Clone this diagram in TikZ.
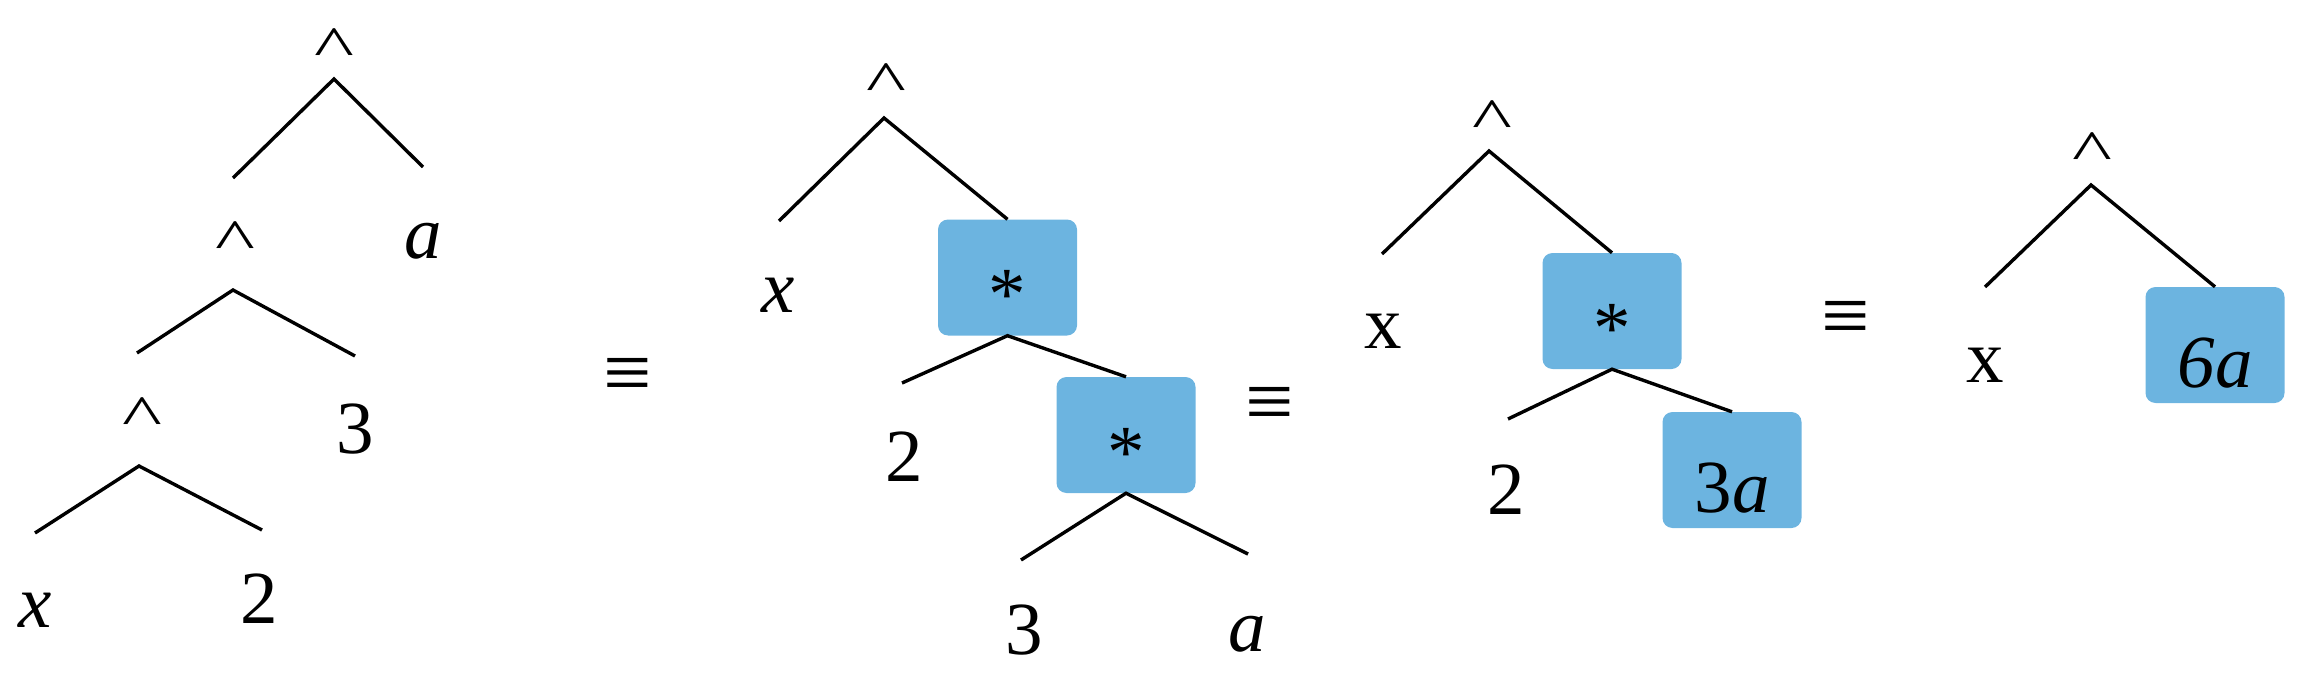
\documentclass[tikz,border=0pt]{standalone}
\usepackage{fontspec}
\usepackage{graphicx}
\setmainfont{Liberation Serif}
\definecolor{boxblue}{RGB}{108,180,224}
\newcommand{\hatsym}{\scalebox{1.13}[0.77]{\textasciicircum}}
\begin{document}
\begin{tikzpicture}[x=1pt,y=-1pt,
  lbl/.style={anchor=base, inner sep=0pt, font=\fontsize{75}{90}\selectfont},
  opbox/.style={rectangle, rounded corners=10pt, fill=boxblue, minimum width=139pt,
    minimum height=116pt, text height=84pt, text depth=0pt, inner sep=0pt,
    font=\fontsize{75}{90}\selectfont},
  branch/.style={line width=3.4pt},
  equiv/.style={inner sep=0pt, font=\fontsize{86}{100}\selectfont}]
\useasboundingbox (0,0) rectangle (2302,674);

% ---------- tree 1 ----------
\node[lbl] (t1r) at (334,67) {\hatsym};
\node[lbl] (t1a) at (423,258) {\textit{a}};
\node[lbl] (t1m) at (235,259) {\hatsym};
\node[lbl] (t1three) at (355,453) {3};
\node[lbl] (t1l) at (142,435) {\hatsym};
\node[lbl] (t1x) at (35,627) {\textit{x}};
\node[lbl] (t1two) at (259,623) {2};
\coordinate (t1r0) at (334,79);
\coordinate (t1r1) at (233,178);
\coordinate (t1r2) at (423,167);
\coordinate (t1m0) at (233,290);
\coordinate (t1m1) at (137,353);
\coordinate (t1m2) at (355,356);
\coordinate (t1l0) at (139,466);
\coordinate (t1l1) at (35,533);
\coordinate (t1l2) at (262,530);
\draw[branch] (t1r1) -- (t1r0) -- (t1r2);
\draw[branch] (t1m1) -- (t1m0) -- (t1m2);
\draw[branch] (t1l1) -- (t1l0) -- (t1l2);

\node[equiv] (eq1) at (628,380) {≡};

% ---------- tree 2 ----------
\node[lbl] (t2r) at (886,102) {\hatsym};
\node[lbl] (t2x) at (778,312) {\textit{x}};
\node[opbox] (b1) at (1007.5,277.5) {*};
\node[lbl] (t2two) at (904,481) {2};
\node[opbox] (b2) at (1126,435) {*};
\node[lbl] (t2three) at (1024,654) {3};
\node[lbl] (t2a) at (1247,651) {\textit{a}};
\coordinate (t2r0) at (884,118);
\coordinate (t2r1) at (779,221);
\coordinate (b1l) at (902,383);
\coordinate (b2l) at (1021,560);
\coordinate (b2r) at (1248,554);
\draw[branch] (t2r1) -- (t2r0) -- (b1.north);
\draw[branch] (b1l) -- (b1.south) -- (b2.north);
\draw[branch] (b2l) -- (b2.south) -- (b2r);

\node[equiv] (eq2) at (1270,409) {≡};

% ---------- tree 3 ----------
\node[lbl] (t3r) at (1492,139) {\hatsym};
\node[lbl] (t3x) at (1383,348) {x};
\node[opbox] (b3) at (1612,311) {*};
\node[lbl] (t3two) at (1506,514) {2};
\node[opbox] (b3a) at (1732,470) {3\textit{a}};
\coordinate (t3r0) at (1489,151);
\coordinate (t3r1) at (1382,254);
\coordinate (b3l) at (1508,419);
\draw[branch] (t3r1) -- (t3r0) -- (b3.north);
\draw[branch] (b3l) -- (b3.south) -- (b3a.north);

\node[equiv] (eq3) at (1846,323) {≡};

% ---------- tree 4 ----------
\node[lbl] (t4r) at (2092,171) {\hatsym};
\node[lbl] (t4x) at (1985,382) {x};
\node[opbox] (b6) at (2215,345) {\textit{6a}};
\coordinate (t4r0) at (2091,185);
\coordinate (t4r1) at (1985,287);
\draw[branch] (t4r1) -- (t4r0) -- (b6.north);
\end{tikzpicture}
\end{document}
